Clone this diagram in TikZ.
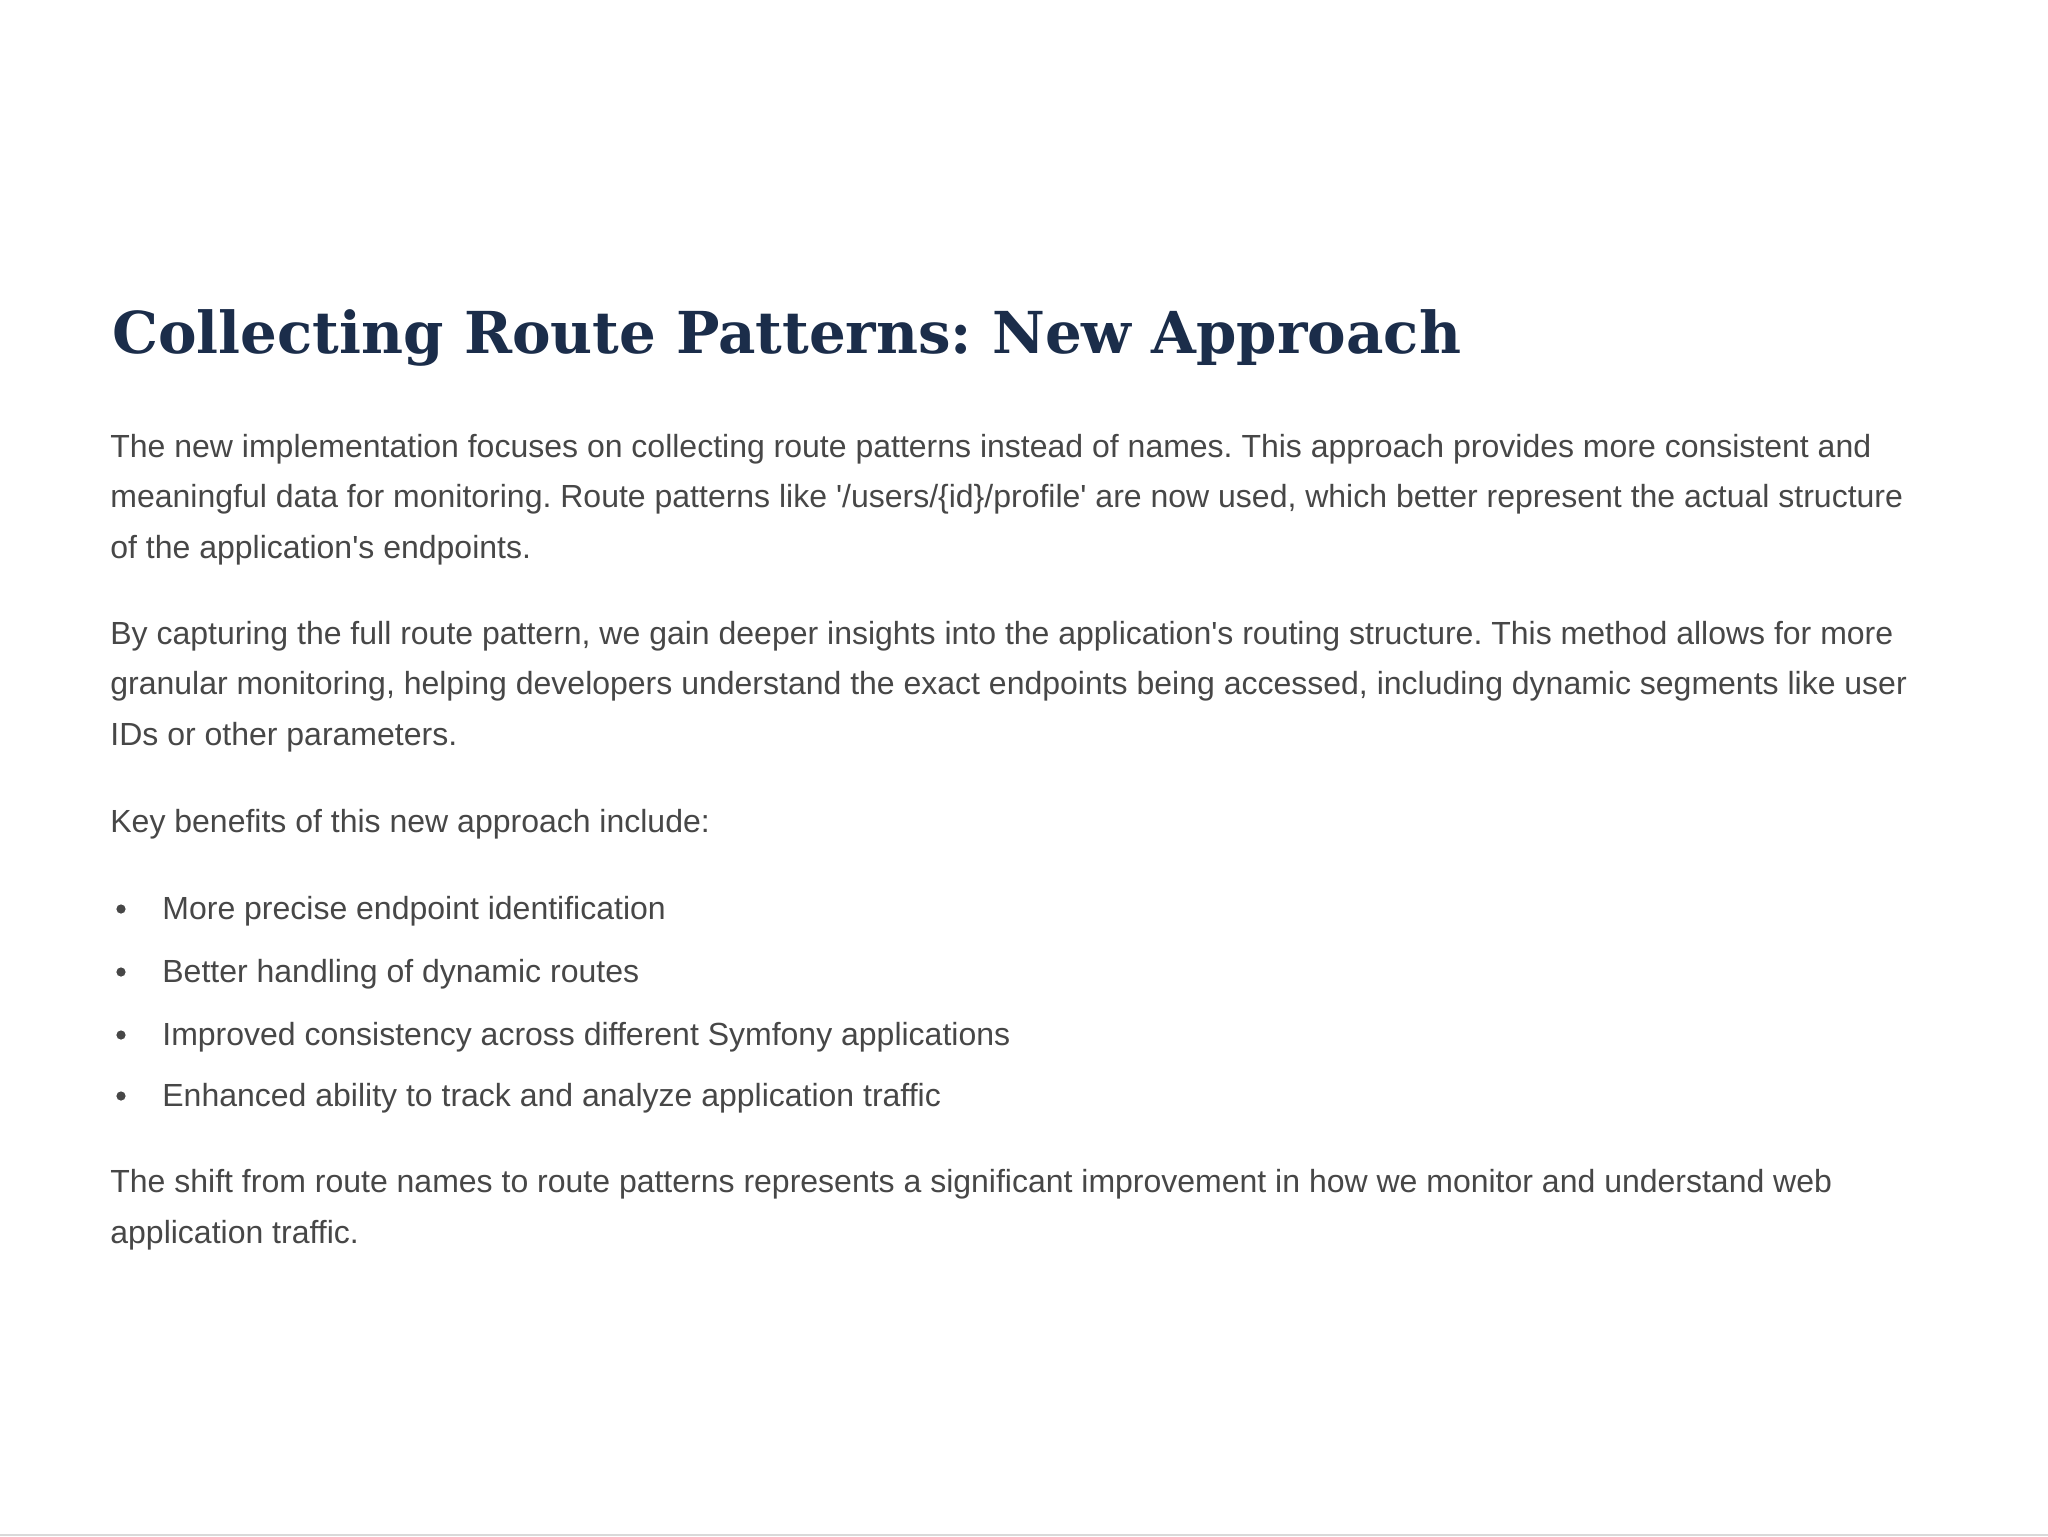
\documentclass[tikz,border=0pt]{standalone}
\usepackage{fontspec}
\setmainfont{Liberation Sans}
\newfontfamily\titlefont{DejaVu Serif}
\usetikzlibrary{calc}
\definecolor{titleblue}{HTML}{1B2D4A}
\definecolor{bodygray}{HTML}{474747}
\frenchspacing
\tikzset{
    body/.style={anchor=base west, inner sep=0pt, align=left, text=bodygray,
        font=\fontsize{16}{25.15}\selectfont},
    dot/.style={circle, fill=bodygray, inner sep=0pt, minimum size=4.6pt}
}

\begin{document}
\begin{tikzpicture}[x=0.5pt, y=-0.5pt]
                \useasboundingbox (0,0) rectangle (2048,1536);
                \fill[white] (0,0) rectangle (2048,1536);
                \draw[black!15, line width=0.6pt] (0,1535) -- (2048,1535);
                \node[anchor=base west, inner sep=0pt, text=titleblue,
                    font=\titlefont\bfseries\fontsize{28.9}{36}\selectfont] (title) at (112,353)
                    {Collecting Route Patterns: New Approach};
                \node[body] (intro) at (110,558)
                    {The new implementation focuses on collecting route patterns instead of names. This approach provides more consistent and\\
                    meaningful data for monitoring. Route patterns like \textquotesingle/users/\{id\}/profile\textquotesingle{} are now used, which better represent the actual structure\\
                    of the application\textquotesingle s endpoints.};
                \node[body] (insight) at (110,745)
                    {By capturing the full route pattern, we gain deeper insights into the application\textquotesingle s routing structure. This method allows for more\\
                    granular monitoring, helping developers understand the exact endpoints being accessed, including dynamic segments like user\\
                    IDs or other parameters.};
                \node[body] (keys) at (110,832) {Key benefits of this new approach include:};
                \foreach \y/\t [count=\i] in {919/More precise endpoint identification,
                        982/Better handling of dynamic routes,
                        1045/Improved consistency across different Symfony applications,
                        1106/Enhanced ability to track and analyze application traffic}{
                    \node[body] (item\i) at (162,\y) {\t};
                    \node[dot] (dot\i) at (121,\y-10) {};
                }
                \node[body] (shift) at (110,1243)
                    {The shift from route names to route patterns represents a significant improvement in how we monitor and understand web\\
                    application traffic.};
            \end{tikzpicture}
\end{document}
